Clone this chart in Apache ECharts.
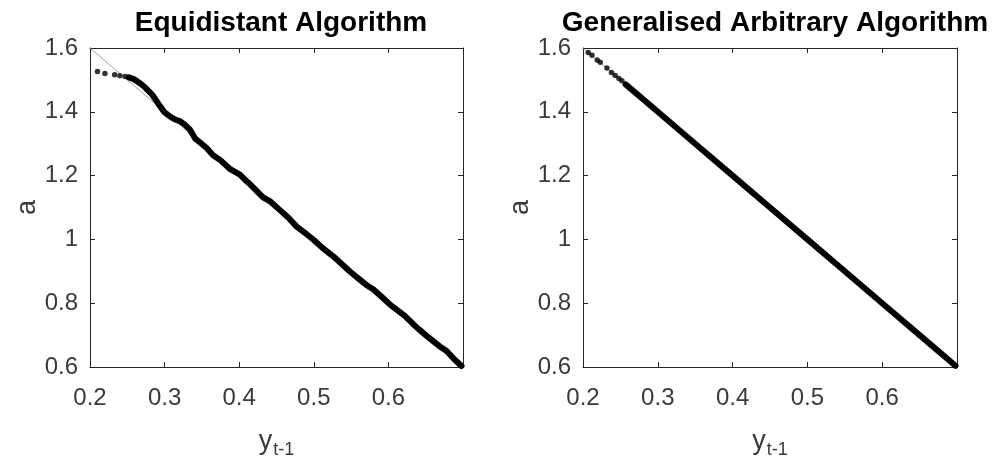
<!DOCTYPE html>
<html>
<head>
<meta charset="utf-8">
<script src="https://cdn.jsdelivr.net/npm/echarts@6/dist/echarts.min.js"></script>
<style>
html,body{margin:0;padding:0;background:#fff;}
#chart{width:1002px;height:466px;}
</style>
</head>
<body>
<div id="chart"></div>
<script>
// ---- data ----
var titles = ['Equidistant Algorithm', 'Generalised Arbitrary Algorithm'];
var xTicks = { min: 0.2, max: 0.7, interval: 0.1 };
var yTicks = { min: 0.6, max: 1.6, interval: 0.2 };
var refLine = [[0.2, 1.6], [0.7, 0.6]];

// Equidistant: sparse dots at the top-left and the dense curve
var eqSparse = [[0.210, 1.526], [0.220, 1.520], [0.233, 1.516], [0.240, 1.513], [0.247, 1.511]];
var eqDense = [
  [0.252, 1.508], [0.258, 1.503], [0.263, 1.496], [0.268, 1.488], [0.274, 1.476],
  [0.283, 1.455], [0.292, 1.424], [0.300, 1.398], [0.308, 1.384], [0.314, 1.376],
  [0.321, 1.370], [0.327, 1.360], [0.334, 1.344], [0.341, 1.316], [0.348, 1.303],
  [0.357, 1.285], [0.365, 1.264], [0.374, 1.250], [0.388, 1.220], [0.401, 1.203],
  [0.410, 1.182], [0.415, 1.172], [0.432, 1.132], [0.441, 1.120], [0.455, 1.091],
  [0.466, 1.068], [0.477, 1.040], [0.490, 1.017], [0.500, 0.998], [0.513, 0.971],
  [0.526, 0.947], [0.536, 0.926], [0.548, 0.900], [0.560, 0.877], [0.570, 0.858],
  [0.580, 0.843], [0.592, 0.818], [0.603, 0.794], [0.611, 0.780], [0.622, 0.760],
  [0.633, 0.735], [0.641, 0.718], [0.650, 0.700], [0.660, 0.681], [0.668, 0.666],
  [0.678, 0.650], [0.688, 0.625], [0.698, 0.603]
];

// Generalised Arbitrary: sparse dots and the dense straight run
var gaSparse = [[0.207, 1.586], [0.212, 1.577], [0.219, 1.562], [0.223, 1.555],
  [0.232, 1.537], [0.238, 1.523], [0.243, 1.514], [0.248, 1.504], [0.252, 1.497]];
var gaDense = [[0.257, 1.486], [0.300, 1.400], [0.350, 1.300], [0.400, 1.200],
  [0.450, 1.100], [0.500, 1.000], [0.550, 0.900], [0.600, 0.800], [0.650, 0.700], [0.698, 0.604]];

// ---- chart ----
var FONT = '"Liberation Sans", Arial, Helvetica, sans-serif';
var AX = '#262626';
var TXT = '#3a3a3a';
var grids = [
  { left: 90, top: 48, width: 373, height: 319 },
  { left: 583, top: 48, width: 374, height: 319 }
];

function xAx(g, pos, labels) {
  return {
    gridIndex: g, type: 'value', position: pos,
    min: xTicks.min, max: xTicks.max, interval: xTicks.interval,
    axisLine: { show: true, onZero: false, lineStyle: { color: AX, width: 1 } },
    axisTick: { show: true, inside: true, length: 5, lineStyle: { color: AX } },
    axisLabel: { show: labels, showMaxLabel: false, fontSize: 24, color: TXT, fontFamily: FONT, margin: 19 },
    splitLine: { show: false },
    name: labels ? '{y|y}{s|t-1}' : '',
    nameLocation: 'middle', nameGap: 58,
    nameTextStyle: {
      color: TXT, fontFamily: FONT,
      rich: {
        y: { fontSize: 27, fontFamily: FONT, color: TXT, lineHeight: 30 },
        s: { fontSize: 18, fontFamily: FONT, color: TXT, padding: [16, 0, 0, 1] }
      }
    }
  };
}
function yAx(g, pos, labels) {
  return {
    gridIndex: g, type: 'value', position: pos,
    min: yTicks.min, max: yTicks.max, interval: yTicks.interval,
    axisLine: { show: true, onZero: false, lineStyle: { color: AX, width: 1 } },
    axisTick: { show: true, inside: true, length: 5, lineStyle: { color: AX } },
    axisLabel: { show: labels, fontSize: 24, color: TXT, fontFamily: FONT, margin: 12 },
    splitLine: { show: false },
    name: labels ? 'a' : '',
    nameLocation: 'middle', nameGap: 47, nameRotate: 90,
    nameTextStyle: { fontSize: 27, color: TXT, fontFamily: FONT }
  };
}

function plotSeries(xi, sparse, dense) {
  return [
    { type: 'line', xAxisIndex: xi, yAxisIndex: xi, data: refLine, symbol: 'none', silent: true,
      lineStyle: { color: '#8c8c8c', width: 0.8 }, z: 1 },
    { type: 'line', xAxisIndex: xi, yAxisIndex: xi, data: dense, symbol: 'none', silent: true,
      lineStyle: { color: '#000', width: 6, cap: 'round', join: 'round' }, z: 2 },
    { type: 'scatter', xAxisIndex: xi, yAxisIndex: xi, data: sparse, symbol: 'circle', symbolSize: 5.5,
      itemStyle: { color: '#000' }, silent: true, z: 3 }
  ];
}

var option = {
  animation: false,
  backgroundColor: '#fff',
  title: [
    { text: titles[0], left: 276, top: 4, textAlign: 'center',
      textStyle: { fontSize: 28, fontWeight: 'bold', color: '#000', fontFamily: FONT } },
    { text: titles[1], left: 770, top: 4, textAlign: 'center',
      textStyle: { fontSize: 28, fontWeight: 'bold', color: '#000', fontFamily: FONT } }
  ],
  grid: grids,
  xAxis: [xAx(0, 'bottom', true), xAx(0, 'top', false), xAx(1, 'bottom', true), xAx(1, 'top', false)],
  yAxis: [yAx(0, 'left', true), yAx(0, 'right', false), yAx(1, 'left', true), yAx(1, 'right', false)],
  series: [].concat(plotSeries(0, eqSparse, eqDense), plotSeries(2, gaSparse, gaDense))
};
var chart = echarts.init(document.getElementById('chart'), null, { renderer: 'canvas' });
chart.setOption(option);
</script>
</body>
</html>
